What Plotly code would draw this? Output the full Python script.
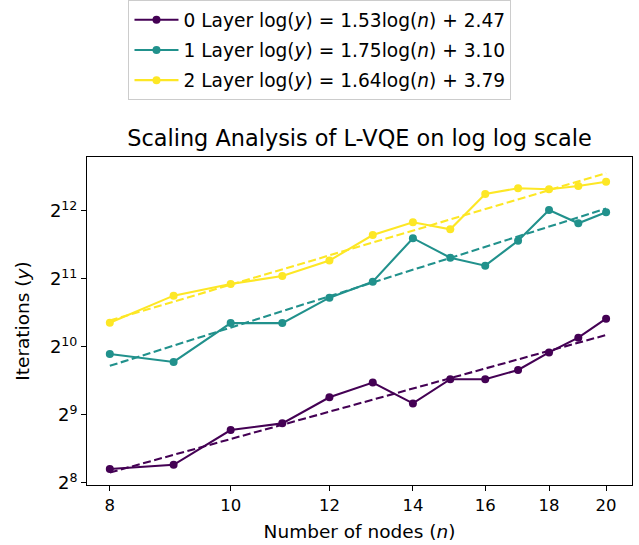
import numpy as np
import plotly.graph_objects as go

nodes = [8, 9, 10, 11, 12, 13, 14, 15, 16, 17, 18, 19, 20]
iters_0 = [295, 308, 439, 470, 613, 712, 576, 737, 737, 810, 969, 1126, 1366]
iters_1 = [953, 879, 1306, 1306, 1693, 1993, 3104, 2544, 2346, 3025, 4138, 3615, 4040]
iters_2 = [1311, 1728, 1946, 2111, 2470, 3207, 3651, 3397, 4870, 5163, 5110, 5286, 5520]
slopes = [1.53, 1.75, 1.64]
intercepts = [2.47, 3.10, 3.79]
layers = ["0", "1", "2"]
colors = ["#440154", "#21918c", "#fde725"]
ytick_vals = [256, 512, 1024, 2048, 4096]
ytick_text = ["2<sup>8</sup>", "2<sup>9</sup>", "2<sup>10</sup>", "2<sup>11</sup>", "2<sup>12</sup>"]
xtick_vals = [8, 10, 12, 14, 16, 18, 20]

fig = go.Figure()
n_arr = np.array(nodes, dtype=float)
for i, ys in enumerate([iters_0, iters_1, iters_2]):
    name = (f"{layers[i]} Layer log(<i>y</i>) = {slopes[i]:.2f}log(<i>n</i>) + {intercepts[i]:.2f}")
    fig.add_trace(go.Scatter(
        x=nodes, y=ys, mode="lines+markers", name=name,
        line=dict(color=colors[i], width=2.1), marker=dict(color=colors[i], size=8),
        legendgroup=f"g{i}"))
for i in range(3):
    fit = np.exp(slopes[i] * np.log(n_arr) + intercepts[i])
    fig.add_trace(go.Scatter(
        x=nodes, y=fit, mode="lines", showlegend=False,
        line=dict(color=colors[i], width=2.1, dash="8px,3.5px")))

fig.update_layout(
    width=639, height=545,
    margin=dict(l=87, r=7, t=157, b=60, autoexpand=False),
    paper_bgcolor="white", plot_bgcolor="white",
    font=dict(family="DejaVu Sans", size=17, color="black"),
    title=dict(text="Scaling Analysis of L-VQE on log log scale",
               x=0.5, xref="paper", y=1 - 138 / 545, yref="container",
               xanchor="center", yanchor="middle", font=dict(size=22.4)),
    legend=dict(x=0.4275, xanchor="center", y=1.478, yanchor="top",
                bordercolor="#cccccc", borderwidth=1, font=dict(size=18.6),
                tracegroupgap=3, itemwidth=44),
    xaxis=dict(type="log", range=[np.log10(7.67), np.log10(20.98)],
               tickvals=xtick_vals, ticktext=[str(v) for v in xtick_vals],
               ticks="outside", ticklen=5, tickcolor="black", automargin=False,
               showline=True, linecolor="black", linewidth=1, mirror=True,
               showgrid=False, zeroline=False, tickfont=dict(size=16.5),
               title=dict(text="Number of nodes (<i>n</i>)", standoff=11, font=dict(size=18.5))),
    yaxis=dict(type="log", range=[7.97 * np.log10(2), 12.794 * np.log10(2)],
               tickvals=ytick_vals, ticktext=ytick_text, automargin=False,
               ticks="outside", ticklen=5, tickcolor="black",
               showline=True, linecolor="black", linewidth=1, mirror=True,
               showgrid=False, zeroline=False, tickfont=dict(size=18),
               title=dict(text="Iterations (<i>y</i>)", standoff=15, font=dict(size=18.5))),
)
fig.write_html("out.html", config={"displayModeBar": False},
               post_script="document.body.style.margin='0';")
